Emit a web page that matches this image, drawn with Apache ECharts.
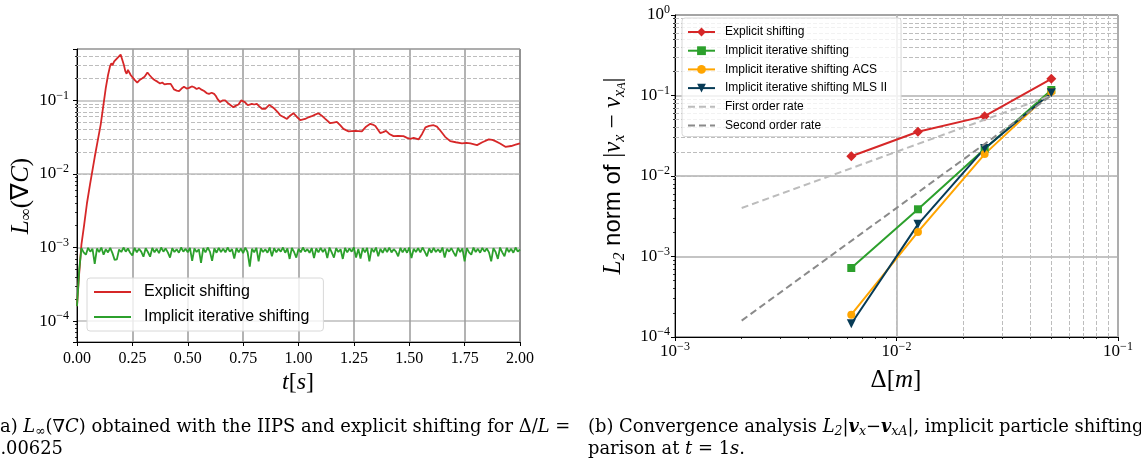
<!DOCTYPE html>
<html><head><meta charset="utf-8">
<script src="https://cdn.jsdelivr.net/npm/echarts@6/dist/echarts.min.js"></script>
<style>html,body{margin:0;padding:0;background:#fff;overflow:hidden}#c{width:1141px;height:461px}</style>
</head><body><div id="c"></div>
<script>
// ---------- Left panel data: L_inf(grad C) vs time ----------
const redT = [0,0.01,0.02,0.032,0.045,0.059,0.08,0.095,0.107,0.12,0.13,0.14,0.149,0.155,0.16,0.168,0.175,0.183,0.19,0.197,0.204,0.212,0.218,0.224,0.23,0.235,0.243,0.25,0.26,0.272,0.283,0.295,0.305,0.318,0.328,0.34,0.35,0.363,0.375,0.385,0.395,0.408,0.415,0.423,0.43,0.438,0.45,0.461,0.472,0.483,0.495,0.506,0.518,0.529,0.54,0.551,0.562,0.574,0.585,0.596,0.608,0.619,0.627,0.634,0.646,0.657,0.669,0.685,0.706,0.718,0.729,0.741,0.749,0.758,0.771,0.78,0.789,0.8,0.812,0.823,0.835,0.85,0.868,0.88,0.892,0.905,0.917,0.93,0.948,0.962,0.977,0.992,1.008,1.03,1.045,1.06,1.075,1.09,1.105,1.121,1.143,1.158,1.173,1.188,1.203,1.226,1.256,1.286,1.305,1.324,1.335,1.347,1.369,1.382,1.395,1.41,1.429,1.45,1.474,1.49,1.505,1.52,1.542,1.558,1.573,1.59,1.61,1.625,1.64,1.662,1.685,1.71,1.738,1.758,1.776,1.806,1.83,1.859,1.875,1.889,1.91,1.934,1.96,1.98,2.0];
const redV = [1.6e-4,4.5e-4,1.1e-3,2.0e-3,4.0e-3,7.3e-3,0.017,0.03,0.047,0.09,0.148,0.22,0.29,0.32,0.30,0.34,0.33,0.38,0.36,0.42,0.36,0.30,0.25,0.23,0.26,0.25,0.22,0.21,0.19,0.174,0.19,0.20,0.21,0.24,0.22,0.20,0.19,0.18,0.17,0.175,0.165,0.168,0.16,0.168,0.155,0.141,0.136,0.134,0.145,0.153,0.145,0.148,0.155,0.151,0.143,0.148,0.14,0.134,0.126,0.123,0.127,0.123,0.115,0.105,0.095,0.1,0.1,0.09,0.081,0.085,0.088,0.1,0.105,0.095,0.086,0.09,0.09,0.088,0.09,0.083,0.077,0.077,0.087,0.082,0.077,0.07,0.063,0.06,0.056,0.062,0.067,0.06,0.054,0.056,0.059,0.061,0.064,0.067,0.062,0.056,0.049,0.05,0.051,0.046,0.041,0.038,0.0385,0.038,0.044,0.048,0.047,0.045,0.036,0.037,0.0385,0.035,0.0327,0.033,0.0327,0.031,0.030,0.031,0.0295,0.035,0.043,0.045,0.046,0.044,0.039,0.032,0.028,0.027,0.026,0.0265,0.026,0.0247,0.027,0.0295,0.029,0.028,0.026,0.0234,0.024,0.025,0.026];
const greenStep = 0.01; // sampling step of the implicit-shifting record [s]
const greenV = [1.6e-4,5.0e-4,9.8e-4,8.6e-4,8.0e-4,9.9e-4,8.8e-4,9.6e-4,6.0e-4,9.7e-4,
8.7e-4,1.0e-3,8.0e-4,9.5e-4,8.6e-4,9.9e-4,8.4e-4,6.8e-4,6.9e-4,9.4e-4,
8.7e-4,1.0e-3,8.8e-4,9.7e-4,8.5e-4,7.8e-4,9.9e-4,8.6e-4,9.6e-4,8.8e-4,
7.5e-4,9.8e-4,8.7e-4,7.5e-4,9.9e-4,8.6e-4,9.6e-4,8.4e-4,1.0e-3,8.8e-4,
9.7e-4,8.6e-4,7.3e-4,9.8e-4,8.7e-4,9.5e-4,8.5e-4,1.0e-3,8.8e-4,9.6e-4,
8.6e-4,9.9e-4,6.6e-4,9.7e-4,8.7e-4,9.5e-4,6.2e-4,9.8e-4,8.6e-4,1.0e-3,
8.8e-4,6.6e-4,9.7e-4,8.5e-4,9.9e-4,8.7e-4,9.6e-4,8.6e-4,1.0e-3,8.8e-4,
9.5e-4,7.1e-4,9.8e-4,8.6e-4,9.7e-4,8.4e-4,1.0e-3,8.7e-4,5.5e-4,9.6e-4,
8.6e-4,9.9e-4,6.5e-4,9.7e-4,8.7e-4,9.5e-4,8.5e-4,1.0e-3,7.6e-4,9.8e-4,
8.6e-4,9.6e-4,8.8e-4,1.0e-3,8.5e-4,9.7e-4,7.0e-4,9.9e-4,8.7e-4,7.3e-4,
9.6e-4,8.6e-4,1.0e-3,8.8e-4,9.5e-4,8.5e-4,9.8e-4,7.2e-4,9.7e-4,8.6e-4,
9.9e-4,8.7e-4,9.6e-4,7.2e-4,1.0e-3,8.6e-4,7.3e-4,9.8e-4,8.7e-4,9.5e-4,
7.0e-4,9.9e-4,8.6e-4,9.7e-4,8.8e-4,1.0e-3,7.3e-4,9.6e-4,7.1e-4,9.8e-4,
8.6e-4,9.9e-4,6.5e-4,9.7e-4,8.7e-4,1.0e-3,7.6e-4,9.6e-4,8.5e-4,9.8e-4,
8.7e-4,1.0e-3,8.6e-4,9.5e-4,8.8e-4,7.6e-4,9.9e-4,8.6e-4,9.7e-4,8.5e-4,
1.0e-3,7.2e-4,9.6e-4,8.7e-4,9.8e-4,8.6e-4,1.0e-3,8.8e-4,7.6e-4,9.7e-4,
8.5e-4,9.9e-4,8.7e-4,9.5e-4,8.6e-4,1.0e-3,7.3e-4,9.6e-4,8.8e-4,9.8e-4,
8.6e-4,7.6e-4,9.9e-4,8.7e-4,9.7e-4,6.5e-4,9.8e-4,8.6e-4,8.0e-4,1.0e-3,
8.7e-4,9.6e-4,8.5e-4,9.9e-4,8.8e-4,9.7e-4,8.6e-4,6.5e-4,9.8e-4,8.7e-4,
7.0e-4,1.0e-3,8.6e-4,7.6e-4,9.9e-4,8.7e-4,9.6e-4,8.5e-4,1.0e-3,8.8e-4,
9.4e-4];

// ---------- Right panel data: convergence ----------
const deltas      = [0.00625, 0.0125, 0.025, 0.05];
const explicitL2  = [0.0176, 0.0354, 0.0554, 0.161];
const implicitL2  = [7.2e-4, 3.86e-3, 0.0216, 0.117];
const acsL2       = [1.89e-4, 2.02e-3, 0.0187, 0.111];
const mlsL2       = [1.46e-4, 2.51e-3, 0.022, 0.108];
const rateDeltas  = [0.002, 0.05];
const firstOrder  = [0.004, 0.1];
const secondOrder = [0.00016, 0.1];

const leftNames  = ['Explicit shifting', 'Implicit iterative shifting'];
const rightNames = ['Explicit shifting\u200B', 'Implicit iterative shifting\u200B', 'Implicit iterative shifting ACS', 'Implicit iterative shifting MLS II', 'First order rate', 'Second order rate'];

// ---------- helpers ----------
const SERIF = 'Liberation Serif';
const CAPSERIF = 'DejaVu Serif';
const SANS = 'Liberation Sans';
const CAPSIZE = 17.9;
function minorValues(lo, hi) {
  const out = [];
  for (let d = Math.floor(Math.log10(lo)) - 1; d <= Math.ceil(Math.log10(hi)); d++) {
    for (let k = 2; k <= 9; k++) {
      const v = k * Math.pow(10, d);
      if (v > lo * 1.0001 && v < hi * 0.9999) out.push(v);
    }
  }
  return out;
}
function logLabel(v) {
  const e = Math.log10(v), r = Math.round(e);
  if (Math.abs(e - r) > 1e-6) return '';
  return '{b|10}{e|' + (r < 0 ? '\u2212' + (-r) : String(r)) + '}';
}
const powRich = {
  b: { fontFamily: SERIF, fontSize: 17, lineHeight: 22, color: '#000' },
  e: { fontFamily: SERIF, fontSize: 12, lineHeight: 10, verticalAlign: 'top', color: '#000' }
};
const pair = (xs, ys) => xs.map((x, i) => [x, ys[i]]);

const L_YMIN = 5.2e-5, L_YMAX = 0.5;
const R_XMIN = 1e-3, R_XMAX = 0.1, R_YMIN = 1e-4, R_YMAX = 1;
const leftMinorY = minorValues(L_YMIN, L_YMAX);
const rightMinorX = minorValues(R_XMIN, R_XMAX);
const rightMinorY = minorValues(R_YMIN, R_YMAX);

const minorLine = { color: '#bdbdbd', width: 1, type: [4, 2] };
const majorTick = { show: true, length: 4, lineStyle: { color: '#000', width: 1 } };

const greenData = greenV.map((v, i) => [i * greenStep, v]);
const noSym = { opacity: 0 };

const option = {
  animation: false,
  backgroundColor: '#fff',
  grid: [
    { left: 77, top: 49, width: 443, height: 293, show: true, borderColor: '#000', borderWidth: 1, backgroundColor: 'transparent', containLabel: false, outerBoundsMode: 'none' },
    { left: 675, top: 15, width: 443, height: 322, show: true, borderColor: '#000', borderWidth: 1, backgroundColor: 'transparent', containLabel: false, outerBoundsMode: 'none' }
  ],
  xAxis: [
    { gridIndex: 0, type: 'value', min: 0, max: 2, interval: 0.25,
      axisLine: { show: true, onZero: false, lineStyle: { color: '#000', width: 1 } },
      axisTick: majorTick,
      axisLabel: { formatter: v => v.toFixed(2), fontFamily: SERIF, fontSize: 16, color: '#000', margin: 9, hideOverlap: false },
      splitLine: { show: true, lineStyle: { color: '#9a9a9a', width: 1.5 } } },
    { gridIndex: 1, type: 'log', logBase: 10, min: R_XMIN, max: R_XMAX, splitNumber: 2,
      axisLine: { show: true, onZero: false, lineStyle: { color: '#000', width: 1 } },
      axisTick: majorTick,
      axisLabel: { formatter: logLabel, rich: powRich, margin: 4, showMinLabel: true, showMaxLabel: true, hideOverlap: false },
      splitLine: { show: true, lineStyle: { color: '#b0b0b0', width: 1.5 } } },
    { gridIndex: 1, type: 'log', logBase: 10, min: R_XMIN, max: R_XMAX, position: 'bottom',
      axisLine: { show: false }, axisLabel: { show: false }, splitLine: { show: false },
      axisTick: { show: true, length: 2, customValues: rightMinorX, lineStyle: { color: '#000', width: 0.8 } } }
  ],
  yAxis: [
    { gridIndex: 0, type: 'log', logBase: 10, min: L_YMIN, max: L_YMAX, splitNumber: 4,
      axisLine: { show: true, onZero: false, lineStyle: { color: '#000', width: 1 } },
      axisTick: majorTick,
      axisLabel: { formatter: logLabel, rich: powRich, margin: 8, hideOverlap: false },
      splitLine: { show: true, lineStyle: { color: '#bdbdbd', width: 1.5 } } },
    { gridIndex: 0, type: 'log', logBase: 10, min: L_YMIN, max: L_YMAX, position: 'left', offset: 0,
      axisLine: { show: false }, axisLabel: { show: false }, splitLine: { show: false },
      axisTick: { show: true, length: 2, customValues: leftMinorY, lineStyle: { color: '#000', width: 0.8 } } },
    { gridIndex: 1, type: 'log', logBase: 10, min: R_YMIN, max: R_YMAX, splitNumber: 4,
      axisLine: { show: true, onZero: false, lineStyle: { color: '#000', width: 1 } },
      axisTick: majorTick,
      axisLabel: { formatter: logLabel, rich: powRich, margin: 5, showMinLabel: true, showMaxLabel: true, hideOverlap: false },
      splitLine: { show: true, lineStyle: { color: '#b0b0b0', width: 1.5 } } },
    { gridIndex: 1, type: 'log', logBase: 10, min: R_YMIN, max: R_YMAX, position: 'left', offset: 0,
      axisLine: { show: false }, axisLabel: { show: false }, splitLine: { show: false },
      axisTick: { show: true, length: 2, customValues: rightMinorY, lineStyle: { color: '#000', width: 0.8 } } }
  ],
  legend: [
    { data: leftNames.map(n => ({ name: n, itemStyle: noSym })), left: 87, top: 278, orient: 'vertical', itemWidth: 37, itemHeight: 14, itemGap: 7,
      padding: [5, 14, 5, 6], backgroundColor: 'rgba(255,255,255,0.8)', borderColor: '#d8d8d8', borderWidth: 1, borderRadius: 3,
      textStyle: { fontFamily: SANS, fontSize: 16, color: '#000', lineHeight: 18, padding: [0, 0, 0, 8] } },
    { data: rightNames.map((n, i) => (i >= 4 ? { name: n, itemStyle: noSym } : n)), left: 682, top: 18, orient: 'vertical', itemWidth: 27, itemHeight: 11, itemGap: 4.7,
      padding: [7, 14, 4, 5], backgroundColor: 'rgba(255,255,255,0.8)', borderColor: '#d8d8d8', borderWidth: 1, borderRadius: 3,
      textStyle: { fontFamily: SANS, fontSize: 12, color: '#000', lineHeight: 14, padding: [0, 0, 0, 5] } }
  ],
  series: [
    { type: 'line', name: '_leftMinor', xAxisIndex: 0, yAxisIndex: 0, data: [], silent: true,
      markLine: { silent: true, symbol: ['none', 'none'], z: 1, label: { show: false }, lineStyle: minorLine, emphasis: { disabled: true },
        data: leftMinorY.map(v => ({ yAxis: v })) } },
    { type: 'line', name: '_rightMinor', xAxisIndex: 1, yAxisIndex: 2, data: [], silent: true,
      markLine: { silent: true, symbol: ['none', 'none'], z: 1, label: { show: false }, lineStyle: minorLine, emphasis: { disabled: true },
        data: rightMinorY.map(v => ({ yAxis: v })).concat(rightMinorX.map(v => ({ xAxis: v }))) } },
    { type: 'line', name: leftNames[0], xAxisIndex: 0, yAxisIndex: 0, data: pair(redT, redV), symbol: 'none',
      lineStyle: { color: '#d62728', width: 1.8 }, itemStyle: { color: '#d62728' }, z: 3 },
    { type: 'line', name: leftNames[1], xAxisIndex: 0, yAxisIndex: 0, data: greenData, symbol: 'none',
      lineStyle: { color: '#2ca02c', width: 1.8 }, itemStyle: { color: '#2ca02c' }, z: 3 },
    { type: 'line', name: rightNames[0], xAxisIndex: 1, yAxisIndex: 2, data: pair(deltas, explicitL2),
      symbol: 'diamond', symbolSize: 10, lineStyle: { color: '#d62728', width: 2 }, itemStyle: { color: '#d62728' }, z: 3 },
    { type: 'line', name: rightNames[1], xAxisIndex: 1, yAxisIndex: 2, data: pair(deltas, implicitL2),
      symbol: 'rect', symbolSize: 8, lineStyle: { color: '#2ca02c', width: 2 }, itemStyle: { color: '#2ca02c' }, z: 3 },
    { type: 'line', name: rightNames[2], xAxisIndex: 1, yAxisIndex: 2, data: pair(deltas, acsL2),
      symbol: 'circle', symbolSize: 8, lineStyle: { color: '#ffa500', width: 2 }, itemStyle: { color: '#ffa500' }, z: 3 },
    { type: 'line', name: rightNames[3], xAxisIndex: 1, yAxisIndex: 2, data: pair(deltas, mlsL2),
      symbol: 'triangle', symbolRotate: 180, symbolSize: 9, lineStyle: { color: '#073b56', width: 2 }, itemStyle: { color: '#073b56' }, z: 3 },
    { type: 'line', name: rightNames[4], xAxisIndex: 1, yAxisIndex: 2, data: pair(rateDeltas, firstOrder), symbol: 'none',
      lineStyle: { color: '#bcbcbc', width: 2, type: [7, 4] }, itemStyle: { color: '#bcbcbc' }, z: 4 },
    { type: 'line', name: rightNames[5], xAxisIndex: 1, yAxisIndex: 2, data: pair(rateDeltas, secondOrder), symbol: 'none',
      lineStyle: { color: '#8a8a8a', width: 2, type: [7, 4] }, itemStyle: { color: '#8a8a8a' }, z: 4 }
  ],
  graphic: [
    { type: 'text', x: 21, y: 196, rotation: Math.PI / 2,
      style: { text: '{it|L}{sub|\u221E}{n|(\u2207}{it|C}{n|)}', align: 'center', verticalAlign: 'middle', fill: '#000',
        rich: { it: { fontFamily: SERIF, fontStyle: 'italic', fontSize: 25, lineHeight: 28 },
                n: { fontFamily: SERIF, fontSize: 25, lineHeight: 28 },
                sub: { fontFamily: SERIF, fontSize: 17, lineHeight: 18, verticalAlign: 'bottom' } } } },
    { type: 'text', x: 298, y: 383,
      style: { text: '{it|t}{n|[}{it|s}{n|]}', align: 'center', verticalAlign: 'middle', fill: '#000',
        rich: { it: { fontFamily: SERIF, fontStyle: 'italic', fontSize: 24 }, n: { fontFamily: SERIF, fontSize: 24 } } } },
    { type: 'text', x: 613, y: 176, rotation: Math.PI / 2,
      style: { text: '{it|L}{sub|2}{sans| norm of }{n||}{it|v}{sub|x}{n| \u2212 }{it|v}{sub|x}{ssub|A}{n||}', align: 'center', verticalAlign: 'middle', fill: '#000',
        rich: { it: { fontFamily: SERIF, fontStyle: 'italic', fontSize: 25, lineHeight: 30 },
                n: { fontFamily: SERIF, fontSize: 25, lineHeight: 30 },
                sans: { fontFamily: SANS, fontSize: 24, lineHeight: 30 },
                sub: { fontFamily: SERIF, fontStyle: 'italic', fontSize: 16, lineHeight: 18, verticalAlign: 'bottom' },
                ssub: { fontFamily: SERIF, fontStyle: 'italic', fontSize: 12, lineHeight: 10, verticalAlign: 'bottom' } } } },
    { type: 'text', x: 896, y: 380,
      style: { text: '{n|\u0394[}{it|m}{n|]}', align: 'center', verticalAlign: 'middle', fill: '#000',
        rich: { it: { fontFamily: SERIF, fontStyle: 'italic', fontSize: 25 }, n: { fontFamily: SERIF, fontSize: 25 } } } },
    { type: 'text', x: -7, y: 427,
      style: { text: '(a) {it|L}{sub|\u221E}(\u2207{it|C}) obtained with the IIPS and explicit shifting for \u0394/{it|L} =', align: 'left', verticalAlign: 'middle', fill: '#000',
        fontFamily: CAPSERIF, fontSize: CAPSIZE,
        rich: { it: { fontFamily: CAPSERIF, fontStyle: 'italic', fontSize: CAPSIZE, lineHeight: 22 },
                sub: { fontFamily: CAPSERIF, fontSize: 12.5, lineHeight: 14, verticalAlign: 'bottom' } } } },
    { type: 'text', x: -11, y: 449,
      style: { text: '0.00625', align: 'left', verticalAlign: 'middle', fill: '#000', fontFamily: CAPSERIF, fontSize: CAPSIZE } },
    { type: 'text', x: 588, y: 427,
      style: { text: '(b) Convergence analysis {it|L}{sub|2}|{bi|v}{sub|x}\u2212{bi|v}{sub|xA}|, implicit particle shifting com-', align: 'left', verticalAlign: 'middle', fill: '#000',
        fontFamily: CAPSERIF, fontSize: CAPSIZE,
        rich: { it: { fontFamily: CAPSERIF, fontStyle: 'italic', fontSize: CAPSIZE, lineHeight: 22 },
                bi: { fontFamily: CAPSERIF, fontStyle: 'italic', fontWeight: 'bold', fontSize: CAPSIZE, lineHeight: 22 },
                sub: { fontFamily: CAPSERIF, fontStyle: 'italic', fontSize: 12.5, lineHeight: 14, verticalAlign: 'bottom' } } } },
    { type: 'text', x: 588, y: 449,
      style: { text: 'parison at {it|t} = 1{it|s}.', align: 'left', verticalAlign: 'middle', fill: '#000', fontFamily: CAPSERIF, fontSize: CAPSIZE,
        rich: { it: { fontFamily: CAPSERIF, fontStyle: 'italic', fontSize: CAPSIZE } } } }
  ]
};
const chart = echarts.init(document.getElementById('c'), null, { renderer: 'canvas' });
chart.setOption(option);
</script>
</body></html>
